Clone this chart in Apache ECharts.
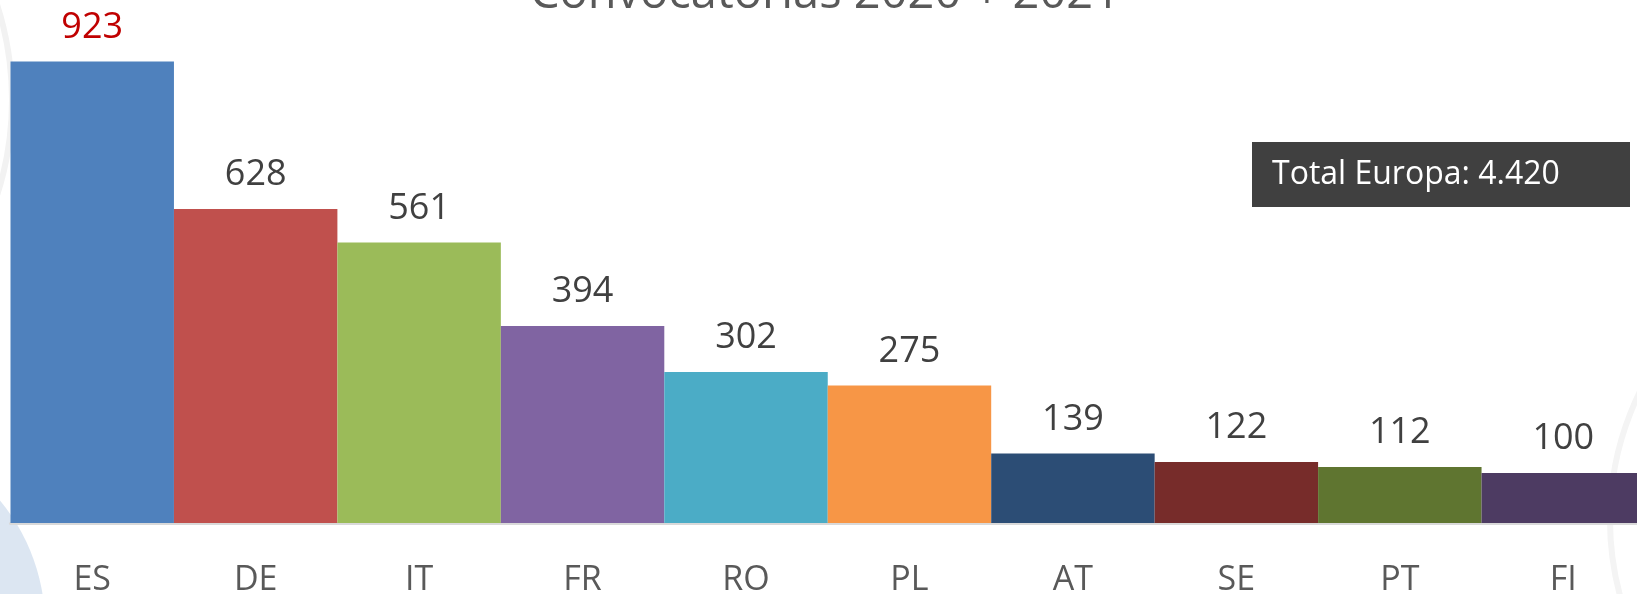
<!DOCTYPE html>
<html><head><meta charset="utf-8">
<script src="https://cdn.jsdelivr.net/npm/echarts@6/dist/echarts.min.js"></script>
<style>html,body{margin:0;padding:0;background:#fff}#c{width:1637px;height:594px}</style>
</head><body><div id="c"></div>
<script>
const categories = ['ES','DE','IT','FR','RO','PL','AT','SE','PT','FI'];
const values = [923,628,561,394,302,275,139,122,112,100];
const barColors = ['#4F81BD','#C0504D','#9BBB59','#8064A2','#4BACC6','#F79646','#2C4D75','#772C2A','#5F7530','#4D3B62'];
const labelColors = ['#C00000','#404040','#404040','#404040','#404040','#404040','#404040','#404040','#404040','#404040'];
const titleText = 'Convocatorias 2020 + 2021';
const totalText = 'Total Europa: 4.420';
const FONT = '"Open Sans", "Noto Sans", sans-serif';

const chart = echarts.init(document.getElementById('c'));
chart.setOption({
  animation: false,
  backgroundColor: '#ffffff',
  grid: {left: 10.5, right: -8, top: 23, bottom: 71, containLabel: false, outerBoundsMode: 'none'},
  xAxis: {
    type: 'category', data: categories,
    axisLine: {show: true, lineStyle: {color: '#d9d9d9', width: 3}},
    axisTick: {show: false},
    axisLabel: {color: '#595959', fontSize: 34, fontFamily: FONT, margin: 40}
  },
  yAxis: {type: 'value', min: 0, max: 1000, show: false, splitLine: {show: false}},
  series: [{
    type: 'bar', barCategoryGap: '0%',
    data: values.map((v, i) => ({
      value: v,
      itemStyle: {color: barColors[i]},
      label: {color: labelColors[i]}
    })),
    label: {show: true, position: 'top', distance: 16, fontSize: 36, fontFamily: FONT, color: '#404040'}
  }],
  graphic: [
    {type: 'circle', z: -10, shape: {cx: -150, cy: 625, r: 195}, style: {fill: '#dce6f2'}},
    {type: 'circle', z: -10, shape: {cx: -300, cy: 100, r: 312}, style: {fill: 'none', stroke: '#f2f2f2', lineWidth: 6}},
    {type: 'circle', z: -10, shape: {cx: 1900, cy: 520, r: 290}, style: {fill: 'none', stroke: '#f4f4f4', lineWidth: 6}},
    {type: 'text', x: 825, y: -29, style: {text: titleText, fill: '#595959', font: '47px ' + FONT, align: 'center', verticalAlign: 'top'}},
    {type: 'rect', shape: {x: 1252, y: 142, width: 378, height: 65}, style: {fill: '#404040'}},
    {type: 'text', x: 1272, y: 174.5, style: {text: totalText, fill: '#ffffff', font: '32px ' + FONT, verticalAlign: 'middle'}}
  ]
});
</script></body></html>
